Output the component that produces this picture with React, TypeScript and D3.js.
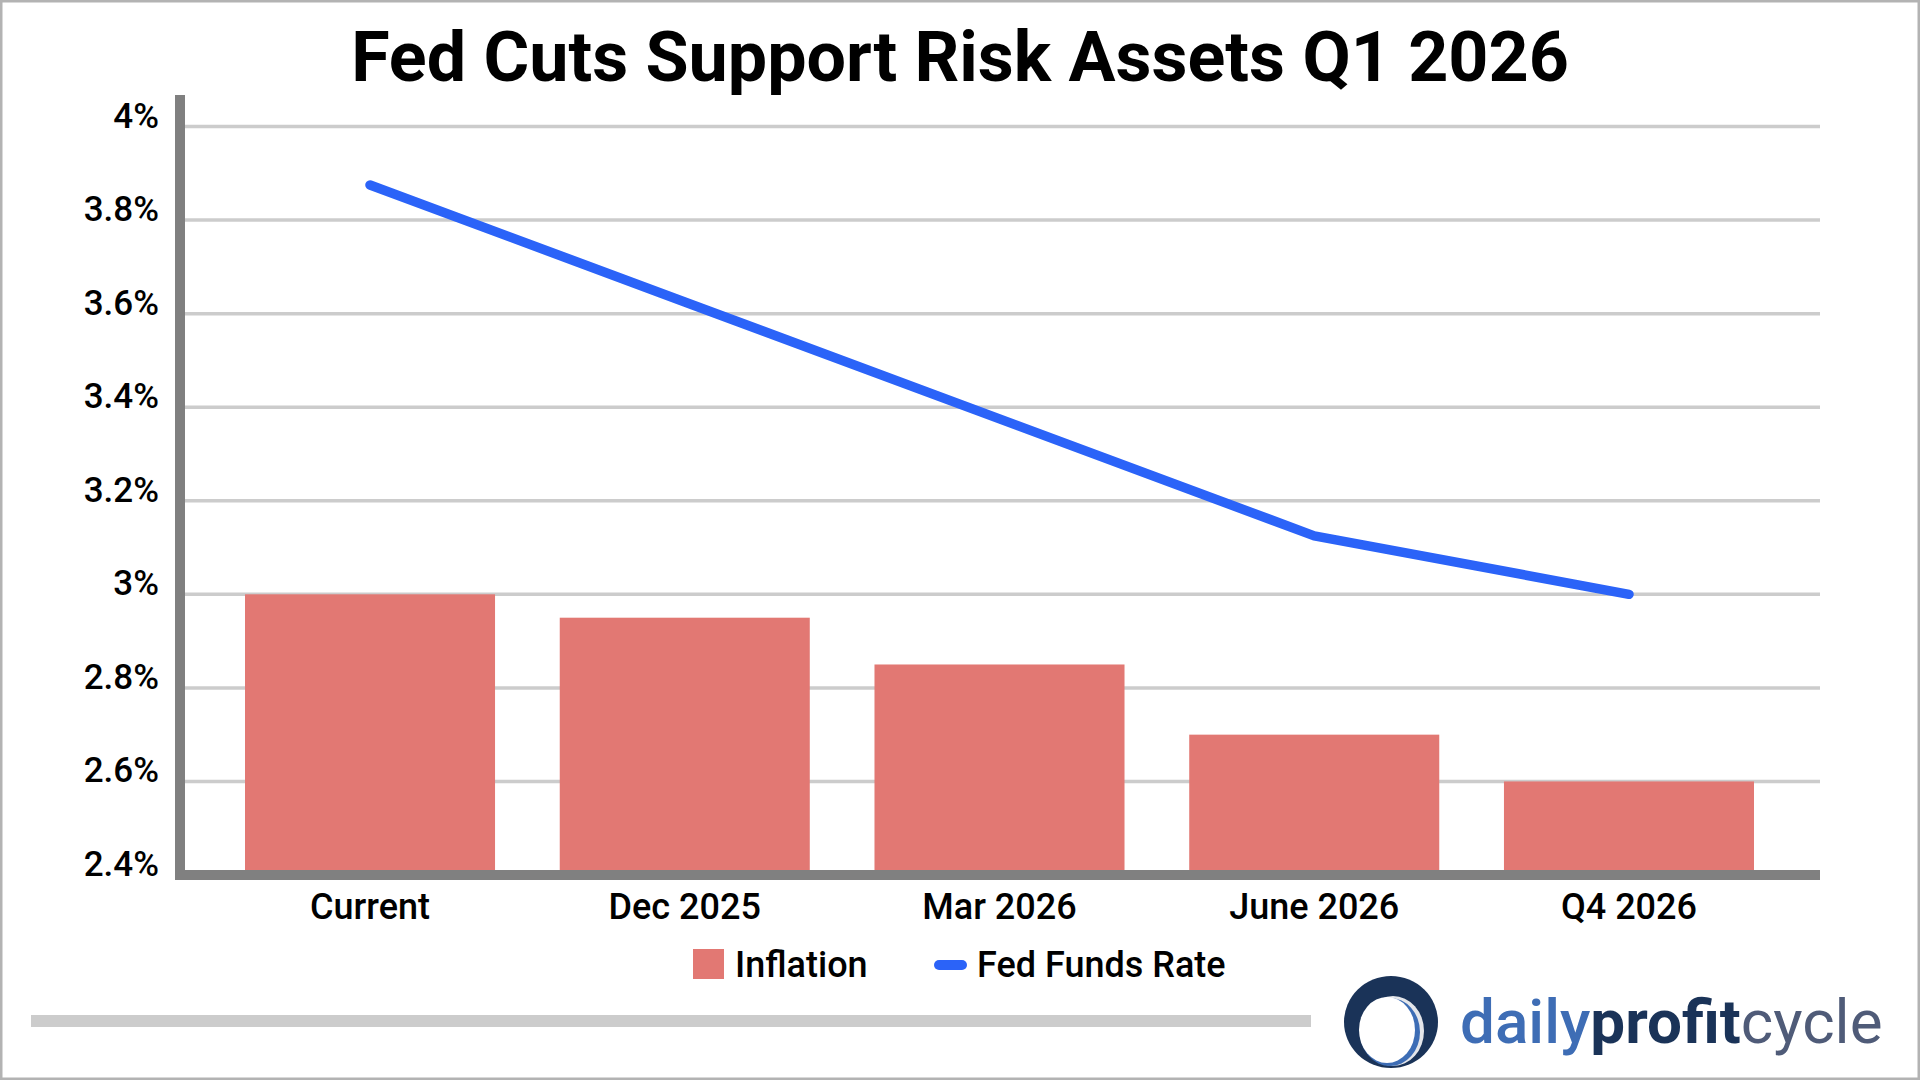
import React, { useEffect, useRef } from 'react'
import * as d3 from 'd3'

const categories = ['Current', 'Dec 2025', 'Mar 2026', 'June 2026', 'Q4 2026']
const inflation = [3.0, 2.95, 2.85, 2.7, 2.6]
const fedFundsRate = [3.875, 3.625, 3.375, 3.125, 3.0]
const yTicks = [2.4, 2.6, 2.8, 3.0, 3.2, 3.4, 3.6, 3.8, 4.0]
const yTickLabels = ['2.4%', '2.6%', '2.8%', '3%', '3.2%', '3.4%', '3.6%', '3.8%', '4%']

const TITLE = 'Fed Cuts Support Risk Assets Q1 2026'
const FONT = 'Roboto, "Noto Sans", sans-serif'

const App: React.FC = () => {
  const svgRef = useRef<SVGSVGElement>(null)

  useEffect(() => {
    document.body.style.margin = '0'
    const svg = d3.select(svgRef.current)
    svg.selectAll('*').remove()

    const width = 1920
    const height = 1080
    const plotLeft = 185
    const plotRight = 1820

    // 外框
    svg.append('rect')
      .attr('x', 1).attr('y', 1)
      .attr('width', width - 2).attr('height', height - 2)
      .attr('fill', '#fff')
      .attr('stroke', '#b3b3b3')
      .attr('stroke-width', 3)

    const x = d3.scaleBand()
      .domain(categories)
      .range([183, 1816])
      .paddingInner(0.2056)
      .paddingOuter(0.197)

    const y = d3.scaleLinear()
      .domain([2.4, 4.0])
      .range([875, 126.5])

    // 网格线
    svg.append('g')
      .selectAll('line')
      .data(yTicks.slice(1))
      .enter()
      .append('line')
      .attr('x1', plotLeft)
      .attr('x2', plotRight)
      .attr('y1', d => y(d))
      .attr('y2', d => y(d))
      .attr('stroke', '#cccccc')
      .attr('stroke-width', 3.5)

    // 柱子
    svg.append('g')
      .selectAll('rect')
      .data(inflation)
      .enter()
      .append('rect')
      .attr('x', (_, i) => x(categories[i]) || 0)
      .attr('y', d => y(d))
      .attr('width', x.bandwidth())
      .attr('height', d => y(2.4) - y(d))
      .attr('fill', '#e27873')

    // 坐标轴线
    svg.append('line')
      .attr('x1', 180).attr('x2', 180)
      .attr('y1', 95).attr('y2', 880)
      .attr('stroke', '#808080')
      .attr('stroke-width', 10)

    svg.append('line')
      .attr('x1', 175).attr('x2', plotRight)
      .attr('y1', y(2.4)).attr('y2', y(2.4))
      .attr('stroke', '#808080')
      .attr('stroke-width', 10)

    // 折线
    const line = d3.line<number>()
      .x((_, i) => (x(categories[i]) || 0) + x.bandwidth() / 2)
      .y(d => y(d))

    svg.append('path')
      .datum(fedFundsRate)
      .attr('d', line)
      .attr('fill', 'none')
      .attr('stroke', '#2b63f8')
      .attr('stroke-width', 9.5)
      .attr('stroke-linecap', 'round')
      .attr('stroke-linejoin', 'round')

    // Y 轴标签
    svg.append('g')
      .selectAll('text')
      .data(yTicks)
      .enter()
      .append('text')
      .attr('x', 159)
      .attr('y', d => y(d) + 1)
      .attr('text-anchor', 'end')
      .attr('font-family', FONT)
      .attr('font-weight', 500)
      .attr('font-size', 35)
      .attr('fill', '#000')
      .text((_, i) => yTickLabels[i])

    // X 轴标签
    svg.append('g')
      .selectAll('text')
      .data(categories)
      .enter()
      .append('text')
      .attr('x', d => (x(d) || 0) + x.bandwidth() / 2)
      .attr('y', 919)
      .attr('text-anchor', 'middle')
      .attr('font-family', FONT)
      .attr('font-weight', 500)
      .attr('font-size', 36)
      .attr('fill', '#000')
      .text(d => d)

    // 标题
    svg.append('text')
      .attr('x', 960)
      .attr('y', 81)
      .attr('text-anchor', 'middle')
      .attr('font-family', FONT)
      .attr('font-weight', 700)
      .attr('font-size', 70)
      .attr('fill', '#000')
      .text(TITLE)

    // 图例
    const legend = svg.append('g')
    legend.append('rect')
      .attr('x', 693).attr('y', 949)
      .attr('width', 31).attr('height', 30)
      .attr('fill', '#e27873')
    legend.append('text')
      .attr('x', 735).attr('y', 977)
      .attr('font-family', FONT)
      .attr('font-weight', 500)
      .attr('font-size', 36)
      .text('Inflation')
    legend.append('line')
      .attr('x1', 939).attr('x2', 962)
      .attr('y1', 965).attr('y2', 965)
      .attr('stroke', '#2b63f8')
      .attr('stroke-width', 10)
      .attr('stroke-linecap', 'round')
    legend.append('text')
      .attr('x', 977).attr('y', 977)
      .attr('font-family', FONT)
      .attr('font-weight', 500)
      .attr('font-size', 36)
      .text('Fed Funds Rate')

    // 底部灰条
    svg.append('rect')
      .attr('x', 31).attr('y', 1015)
      .attr('width', 1280).attr('height', 12)
      .attr('fill', '#cccccc')

    // 标志
    const logo = svg.append('g')
    logo.append('ellipse')
      .attr('cx', 1391).attr('cy', 1022).attr('rx', 47).attr('ry', 46)
      .attr('fill', '#1a3358')
    logo.append('ellipse')
      .attr('cx', 1393).attr('cy', 1031).attr('rx', 31).attr('ry', 35)
      .attr('fill', '#e4e6ea')
    logo.append('ellipse')
      .attr('cx', 1390).attr('cy', 1032).attr('rx', 30).attr('ry', 34)
      .attr('fill', '#3d6db5')
    logo.append('ellipse')
      .attr('cx', 1387).attr('cy', 1030).attr('rx', 28).attr('ry', 33)
      .attr('fill', '#fff')

    const brand = logo.append('text')
      .attr('x', 1460).attr('y', 1043)
      .attr('font-family', FONT)
      .attr('font-size', 62)
    brand.append('tspan').attr('fill', '#3e6db5').attr('font-weight', 500).text('daily')
    brand.append('tspan').attr('fill', '#1a3358').attr('font-weight', 700).text('profit')
    brand.append('tspan').attr('fill', '#4f5b78').attr('font-weight', 400).text('cycle')
  }, [])

  return (
    <svg
      ref={svgRef}
      width={1920}
      height={1080}
      style={{ position: 'absolute', left: 0, top: 0, display: 'block' }}
    />
  )
}

export default App
